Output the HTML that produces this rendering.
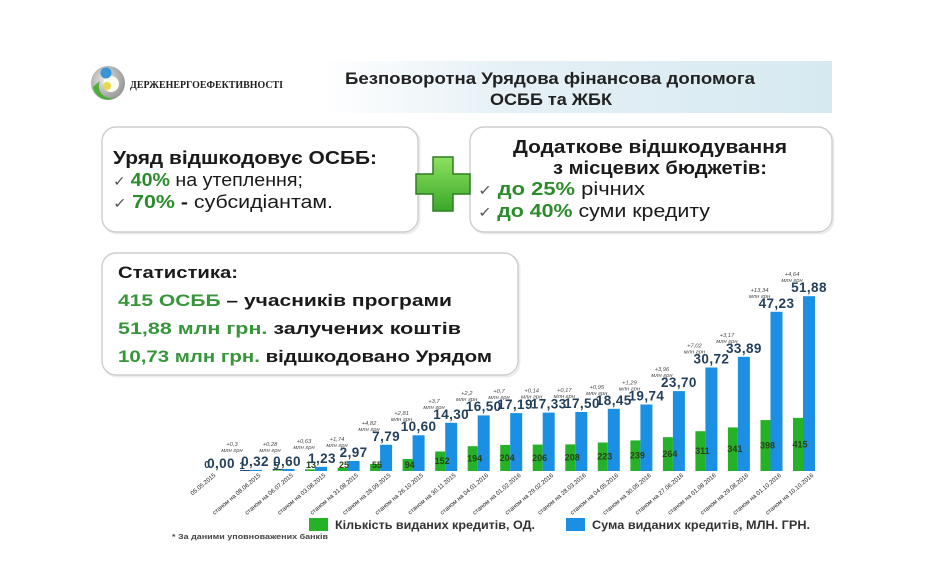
<!DOCTYPE html>
<html><head><meta charset="utf-8"><style>
html,body{margin:0;padding:0;background:#fff;}
svg{display:block;}
text{font-family:"Liberation Sans","DejaVu Sans",sans-serif;}
.ck{font-family:"DejaVu Sans",sans-serif;fill:#555;font-weight:normal;}
.v{font-size:13.5px;font-weight:bold;fill:#233f5c;text-anchor:middle;letter-spacing:0.4px;}
.g{font-size:9px;font-weight:bold;fill:#27401a;text-anchor:middle;}
.a{font-size:5.8px;font-style:italic;fill:#4a4a4a;text-anchor:middle;}
.x{font-size:6.1px;fill:#222;text-anchor:end;}
.bb{fill:#1a8fe3;}
.gb{fill:#26b226;}
</style></head><body>
<svg width="925" height="584" viewBox="0 0 925 584" xmlns="http://www.w3.org/2000/svg">
<defs>
<linearGradient id="band" x1="0" y1="0" x2="1" y2="0">
<stop offset="0" stop-color="#ffffff"/>
<stop offset="0.35" stop-color="#e6f1f6"/>
<stop offset="1" stop-color="#d6e9f1"/>
</linearGradient>
<radialGradient id="lg" cx="0.4" cy="0.4" r="0.7">
<stop offset="0" stop-color="#e8e8e8"/>
<stop offset="1" stop-color="#8c8c8c"/>
</radialGradient>
<linearGradient id="pl" x1="0" y1="0" x2="0" y2="1">
<stop offset="0" stop-color="#8ee05e"/>
<stop offset="1" stop-color="#3aa82a"/>
</linearGradient>
</defs>
<rect width="925" height="584" fill="#fff"/>

<!-- header band -->
<rect x="322" y="61" width="510" height="52" fill="url(#band)"/>
<!-- logo -->
<g transform="translate(108,83)">
<circle r="17" fill="url(#lg)"/>
<path d="M-15,4 A15,15 0 0 0 8,14 A12,12 0 0 1 -8,-2 Z" fill="#4cae3a"/>
<circle cx="3" cy="1" r="8" fill="#fbfbf0"/>
<circle cx="-1" cy="3" r="4" fill="#e8d84a"/>
<circle cx="-2" cy="-10" r="5.5" fill="#3a95d6"/>
</g>
<text x="130" y="88" font-weight="bold" font-size="10" fill="#222" textLength="153" lengthAdjust="spacingAndGlyphs" style="font-family:'Liberation Serif',serif">ДЕРЖЕНЕРГОЕФЕКТИВНОСТІ</text>
<text x="550" y="84" text-anchor="middle" font-size="17" font-weight="bold" fill="#222" textLength="410" lengthAdjust="spacingAndGlyphs">Безповоротна Урядова фінансова допомога</text>
<text x="551" y="105" text-anchor="middle" font-size="17" font-weight="bold" fill="#222" textLength="122" lengthAdjust="spacingAndGlyphs">ОСББ та ЖБК</text>

<!-- boxes -->
<rect x="103.5" y="128.5" width="316" height="105" rx="14" fill="none" stroke="#ececec" stroke-width="2"/>
<rect x="102" y="127" width="316" height="105" rx="14" fill="#fff" stroke="#cdcdcd" stroke-width="1.4"/>
<rect x="471.5" y="128.5" width="362" height="105" rx="14" fill="none" stroke="#ececec" stroke-width="2"/>
<rect x="470" y="127" width="362" height="105" rx="14" fill="#fff" stroke="#cdcdcd" stroke-width="1.4"/>
<rect x="103.5" y="254.5" width="416" height="122" rx="14" fill="none" stroke="#ececec" stroke-width="2"/>
<rect x="102" y="253" width="416" height="122" rx="14" fill="#fff" stroke="#cdcdcd" stroke-width="1.4"/>

<!-- plus -->
<path d="M433,157 h20 v17 h17 v20 h-17 v17 h-20 v-17 h-17 v-20 h17 Z" fill="url(#pl)" stroke="#2f7d22" stroke-width="1.5"/>

<!-- box 1 text -->
<text x="113" y="164" font-size="18" font-weight="bold" fill="#1a1a1a" textLength="264" lengthAdjust="spacingAndGlyphs">Уряд відшкодовує ОСББ:</text>
<text x="113" y="186" font-size="18" fill="#1a1a1a" textLength="190" lengthAdjust="spacingAndGlyphs"><tspan class="ck" font-size="14">✓ </tspan><tspan fill="#2b8c2b" font-weight="bold">40%</tspan> на утеплення;</text>
<text x="113" y="208" font-size="18" fill="#1a1a1a" textLength="220" lengthAdjust="spacingAndGlyphs"><tspan class="ck" font-size="14">✓ </tspan><tspan fill="#2b8c2b" font-weight="bold">70%</tspan><tspan font-weight="bold"> -</tspan> субсидіантам.</text>

<!-- box 2 text -->
<text x="650" y="153" text-anchor="middle" font-size="18" font-weight="bold" fill="#1a1a1a" textLength="274" lengthAdjust="spacingAndGlyphs">Додаткове відшкодування</text>
<text x="660" y="174" text-anchor="middle" font-size="18" font-weight="bold" fill="#1a1a1a" textLength="214" lengthAdjust="spacingAndGlyphs">з місцевих бюджетів:</text>
<text x="478" y="195" font-size="18" fill="#1a1a1a" textLength="167" lengthAdjust="spacingAndGlyphs"><tspan class="ck" font-size="14">✓ </tspan><tspan fill="#2b8c2b" font-weight="bold">до 25%</tspan> річних</text>
<text x="478" y="217" font-size="18" fill="#1a1a1a" textLength="232" lengthAdjust="spacingAndGlyphs"><tspan class="ck" font-size="14">✓ </tspan><tspan fill="#2b8c2b" font-weight="bold">до 40%</tspan> суми кредиту</text>

<!-- box 3 text -->
<text x="118" y="278" font-size="17" font-weight="bold" fill="#1a1a1a" textLength="120" lengthAdjust="spacingAndGlyphs">Статистика:</text>
<text x="118" y="306" font-size="17" font-weight="bold" fill="#1a1a1a" textLength="334" lengthAdjust="spacingAndGlyphs"><tspan fill="#37963a">415 ОСББ</tspan> – учасників програми</text>
<text x="118" y="334" font-size="17" font-weight="bold" fill="#1a1a1a" textLength="343" lengthAdjust="spacingAndGlyphs"><tspan fill="#37963a">51,88 млн грн.</tspan> залучених коштів</text>
<text x="118" y="362" font-size="17" font-weight="bold" fill="#1a1a1a" textLength="374" lengthAdjust="spacingAndGlyphs"><tspan fill="#37963a">10,73 млн грн.</tspan> відшкодовано Урядом</text>

<!-- bars: green -->
<rect class="gb" x="240" y="470.7" width="10" height="0.3"/>
<rect class="gb" x="272.5" y="470.4" width="10" height="0.6"/>
<rect class="gb" x="305" y="469.3" width="10" height="1.7"/>
<rect class="gb" x="337.6" y="467.8" width="10" height="3.2"/>
<rect class="gb" x="370.1" y="464" width="10" height="7"/>
<rect class="gb" x="402.6" y="459" width="10" height="12"/>
<rect class="gb" x="435.2" y="451.5" width="10" height="19.5"/>
<rect class="gb" x="467.7" y="446.2" width="10" height="24.8"/>
<rect class="gb" x="500.2" y="444.9" width="10" height="26.1"/>
<rect class="gb" x="532.7" y="444.6" width="10" height="26.4"/>
<rect class="gb" x="565.3" y="444.4" width="10" height="26.6"/>
<rect class="gb" x="597.8" y="442.5" width="10" height="28.5"/>
<rect class="gb" x="630.4" y="440.4" width="10" height="30.6"/>
<rect class="gb" x="662.9" y="437.2" width="10" height="33.8"/>
<rect class="gb" x="695.4" y="431.2" width="10" height="39.8"/>
<rect class="gb" x="727.9" y="427.4" width="10" height="43.6"/>
<rect class="gb" x="760.5" y="420.1" width="10" height="50.9"/>
<rect class="gb" x="793" y="417.9" width="10" height="53.1"/>

<!-- bars: blue -->
<rect x="240" y="470" width="22" height="1" fill="#2d4a6a"/>
<rect x="272.5" y="469" width="22" height="1" fill="#2d4a6a"/>
<rect class="bb" x="250" y="469.9" width="12" height="1.1"/>
<rect class="bb" x="282.5" y="469" width="12" height="2"/>
<rect class="bb" x="315.05" y="466.85" width="12" height="4.15"/>
<rect class="bb" x="347.6" y="461" width="12" height="10"/>
<rect class="bb" x="380.1" y="444.75" width="12" height="26.25"/>
<rect class="bb" x="412.6" y="435.3" width="12" height="35.7"/>
<rect class="bb" x="445.2" y="422.8" width="12" height="48.2"/>
<rect class="bb" x="477.7" y="415.4" width="12" height="55.6"/>
<rect class="bb" x="510.2" y="413.1" width="12" height="57.9"/>
<rect class="bb" x="542.7" y="412.6" width="12" height="58.4"/>
<rect class="bb" x="575.3" y="412" width="12" height="59"/>
<rect class="bb" x="607.8" y="408.8" width="12" height="62.2"/>
<rect class="bb" x="640.4" y="404.5" width="12" height="66.5"/>
<rect class="bb" x="672.9" y="391.1" width="12" height="79.9"/>
<rect class="bb" x="705.4" y="367.5" width="12" height="103.5"/>
<rect class="bb" x="737.9" y="356.8" width="12" height="114.2"/>
<rect class="bb" x="770.5" y="311.8" width="12" height="159.2"/>
<rect class="bb" x="803" y="296.2" width="12" height="174.8"/>

<!-- green labels -->
<text class="g" x="207" y="468" style="fill:#233f5c;font-size:10px">0</text>
<text class="g" x="242" y="469" style="fill:#233f5c;font-size:10px">1</text>
<text class="g" x="276" y="469" style="fill:#233f5c;font-size:10px">5</text>
<text class="g" x="311" y="468">13</text>
<text class="g" x="344" y="468">25</text>
<text class="g" x="377" y="468">55</text>
<text class="g" x="409.6" y="468">94</text>
<text class="g" x="442.2" y="464.2">152</text>
<text class="g" x="474.7" y="461.6">194</text>
<text class="g" x="507.2" y="461">204</text>
<text class="g" x="539.7" y="460.8">206</text>
<text class="g" x="572.3" y="460.7">208</text>
<text class="g" x="604.8" y="459.7">223</text>
<text class="g" x="637.4" y="458.7">239</text>
<text class="g" x="669.9" y="457.1">264</text>
<text class="g" x="702.4" y="454.1">311</text>
<text class="g" x="734.9" y="452.2">341</text>
<text class="g" x="767.5" y="448.5">398</text>
<text class="g" x="800" y="447.4">415</text>

<!-- value labels -->
<text class="v" x="221" y="468">0,00</text>
<text class="v" x="255" y="466">0,32</text>
<text class="v" x="287" y="466">0,60</text>
<text class="v" x="322" y="463">1,23</text>
<text class="v" x="353.6" y="457">2,97</text>
<text class="v" x="386.1" y="441">7,79</text>
<text class="v" x="418.6" y="431">10,60</text>
<text class="v" x="451.2" y="419">14,30</text>
<text class="v" x="483.7" y="411">16,50</text>
<text class="v" x="515" y="409">17,19</text>
<text class="v" x="548.7" y="408.6">17,33</text>
<text class="v" x="582" y="408">17,50</text>
<text class="v" x="613.8" y="405">18,45</text>
<text class="v" x="646.4" y="400.5">19,74</text>
<text class="v" x="678.9" y="387">23,70</text>
<text class="v" x="711.4" y="363.5">30,72</text>
<text class="v" x="743.9" y="352.8">33,89</text>
<text class="v" x="776.5" y="307.8">47,23</text>
<text class="v" x="809" y="292.2">51,88</text>

<!-- annotations -->
<text class="a" x="232" y="446">+0,3</text><text class="a" x="232" y="452">млн грн</text>
<text class="a" x="270" y="446">+0,28</text><text class="a" x="270" y="452">млн грн</text>
<text class="a" x="304" y="443">+0,63</text><text class="a" x="304" y="449">млн грн</text>
<text class="a" x="337" y="441">+1,74</text><text class="a" x="337" y="447">млн грн</text>
<text class="a" x="369" y="425">+4,82</text><text class="a" x="369" y="431">млн грн</text>
<text class="a" x="401.6" y="415">+2,81</text><text class="a" x="401.6" y="421">млн грн</text>
<text class="a" x="434" y="403">+3,7</text><text class="a" x="434" y="409">млн грн</text>
<text class="a" x="466.7" y="395">+2,2</text><text class="a" x="466.7" y="401">млн грн</text>
<text class="a" x="499" y="393">+0,7</text><text class="a" x="499" y="399">млн грн</text>
<text class="a" x="531.7" y="392.6">+0,14</text><text class="a" x="531.7" y="398.6">млн грн</text>
<text class="a" x="564.3" y="392">+0,17</text><text class="a" x="564.3" y="398">млн грн</text>
<text class="a" x="596.8" y="389">+0,95</text><text class="a" x="596.8" y="395">млн грн</text>
<text class="a" x="629.4" y="384.5">+1,29</text><text class="a" x="629.4" y="390.5">млн грн</text>
<text class="a" x="661.9" y="371">+3,96</text><text class="a" x="661.9" y="377">млн грн</text>
<text class="a" x="694.4" y="347.5">+7,02</text><text class="a" x="694.4" y="353.5">млн грн</text>
<text class="a" x="726.9" y="336.8">+3,17</text><text class="a" x="726.9" y="342.8">млн грн</text>
<text class="a" x="759.5" y="291.8">+13,34</text><text class="a" x="759.5" y="297.8">млн грн</text>
<text class="a" x="792" y="276.2">+4,64</text><text class="a" x="792" y="282.2">млн грн</text>

<!-- x labels -->
<text class="x" transform="translate(216,476) rotate(-40)">05.05.2015</text>
<text class="x" transform="translate(261,476) rotate(-40)">станом на 08.06.2015</text>
<text class="x" transform="translate(293.5,476) rotate(-40)">станом на 06.07.2015</text>
<text class="x" transform="translate(326,476) rotate(-40)">станом на 03.08.2015</text>
<text class="x" transform="translate(358.6,476) rotate(-40)">станом на 31.08.2015</text>
<text class="x" transform="translate(391.1,476) rotate(-40)">станом на 28.09.2015</text>
<text class="x" transform="translate(423.6,476) rotate(-40)">станом на 26.10.2015</text>
<text class="x" transform="translate(456.2,476) rotate(-40)">станом на 30.11.2015</text>
<text class="x" transform="translate(488.7,476) rotate(-40)">станом на 04.01.2016</text>
<text class="x" transform="translate(521.2,476) rotate(-40)">станом на 01.02.2016</text>
<text class="x" transform="translate(553.7,476) rotate(-40)">станом на 29.02.2016</text>
<text class="x" transform="translate(586.3,476) rotate(-40)">станом на 28.03.2016</text>
<text class="x" transform="translate(618.8,476) rotate(-40)">станом на 04.05.2016</text>
<text class="x" transform="translate(651.4,476) rotate(-40)">станом на 30.05.2016</text>
<text class="x" transform="translate(683.9,476) rotate(-40)">станом на 27.06.2016</text>
<text class="x" transform="translate(716.4,476) rotate(-40)">станом на 01.08.2016</text>
<text class="x" transform="translate(748.9,476) rotate(-40)">станом на 29.08.2016</text>
<text class="x" transform="translate(781.5,476) rotate(-40)">станом на 01.10.2016</text>
<text class="x" transform="translate(814,476) rotate(-40)">станом на 10.10.2016</text>

<!-- legend -->
<rect x="309" y="518" width="19" height="13" fill="#26b226"/>
<text x="335" y="529" font-size="12" font-weight="bold" fill="#333" textLength="200" lengthAdjust="spacingAndGlyphs">Кількість виданих кредитів, ОД.</text>
<rect x="566" y="518" width="19" height="13" fill="#1a8fe3"/>
<text x="592" y="529" font-size="12" font-weight="bold" fill="#333" textLength="218" lengthAdjust="spacingAndGlyphs">Сума виданих кредитів, МЛН. ГРН.</text>
<text x="172" y="539" font-size="7" font-weight="bold" fill="#444" textLength="156" lengthAdjust="spacingAndGlyphs">* За даними уповноважених банків</text>
</svg>
</body></html>
